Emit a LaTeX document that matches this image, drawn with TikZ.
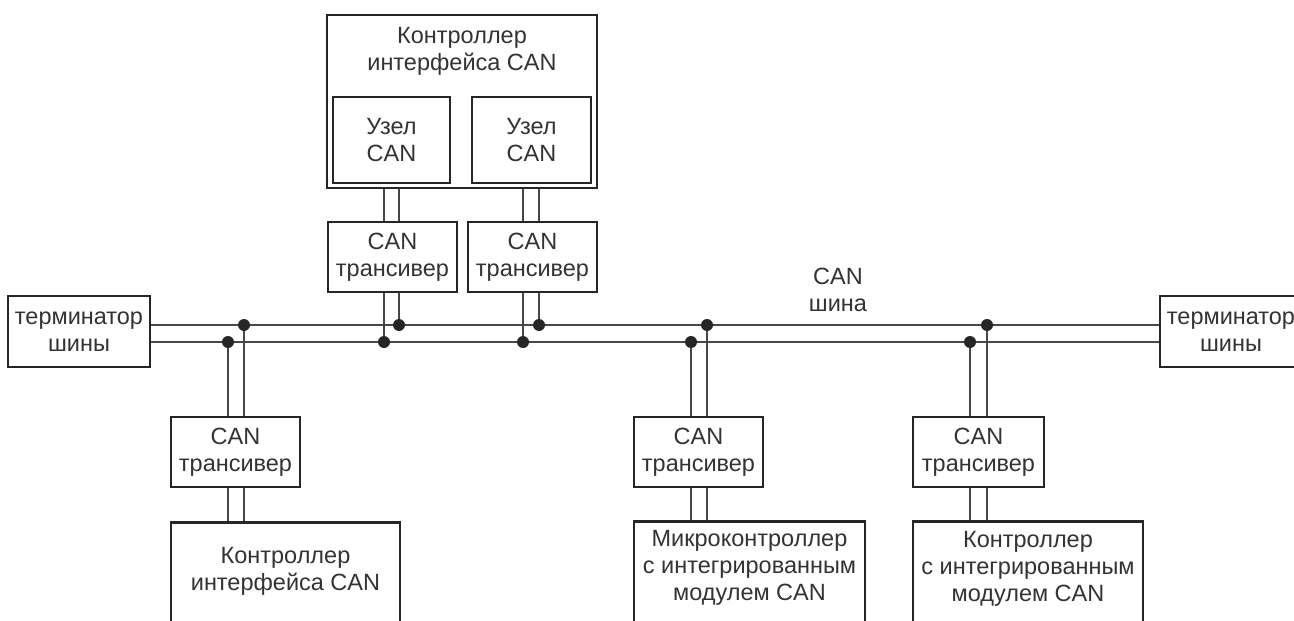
\documentclass[tikz,border=0pt]{standalone}
\usepackage{fontspec}
\setmainfont{Liberation Sans}
\begin{document}
\begin{tikzpicture}[x=1pt,y=-1pt,
  box/.style={draw=black!85, line width=2.7pt, rectangle, inner sep=0pt, fill=white},
  txt/.style={align=center, font=\fontsize{23.5}{27}\selectfont, text=black!80, inner sep=0pt},
  wire/.style={draw=black!72, line width=2pt},
  jdot/.style={circle, fill=black!85, inner sep=0pt, minimum size=12pt}]
\useasboundingbox (0,0) rectangle (1294,621);

% top controller with two CAN nodes
\node[box, minimum width=270pt, minimum height=173pt] (tc) at (462,101.5) {};
\node[txt] (tctext) at (462,51) {Контроллер\\интерфейса CAN};
\node[box, txt, minimum width=117pt, minimum height=86pt] (n1) at (391.5,140) {Узел\\CAN};
\node[box, txt, minimum width=119pt, minimum height=86pt] (n2) at (531.5,140) {Узел\\CAN};

% transceivers
\node[box, txt, minimum width=129pt, minimum height=70pt] (t1) at (392.5,257) {CAN\\трансивер};
\node[box, txt, minimum width=129pt, minimum height=70pt] (t2) at (532.5,257) {CAN\\трансивер};
\node[box, txt, minimum width=129pt, minimum height=70pt] (tb1) at (235.5,452) {CAN\\трансивер};
\node[box, txt, minimum width=129pt, minimum height=70pt] (tb2) at (698.5,452) {CAN\\трансивер};
\node[box, txt, minimum width=131pt, minimum height=70pt] (tb3) at (978.5,452) {CAN\\трансивер};

% terminators
\node[box, txt, minimum width=142pt, minimum height=71pt] (termL) at (79,331.5) {терминатор\\шины};
\node[box, txt, minimum width=142pt, minimum height=71pt] (termR) at (1231,331.5) {терминатор\\шины};

% bottom controllers
\node[box, minimum width=229pt, minimum height=200pt, anchor=north] (cb1) at (285.5,521) {};
\node[txt] (cb1text) at (285.5,571) {Контроллер\\интерфейса CAN};
\node[box, minimum width=231pt, minimum height=200pt, anchor=north] (cb2) at (749.5,520) {};
\node[txt] (cb2text) at (749.5,568) {Микроконтроллер\\с интегрированным\\модулем CAN};
\node[box, minimum width=230pt, minimum height=200pt, anchor=north] (cb3) at (1028,520) {};
\node[txt] (cb3text) at (1028,569) {Контроллер\\с интегрированным\\модулем CAN};

% bus label
\node[txt] (buslabel) at (838,290) {CAN\\шина};

% bus
\coordinate (busT) at (0,325);
\coordinate (busB) at (0,342);
\draw[wire] (termL.east |- busT) -- (termR.west |- busT);
\draw[wire] (termL.east |- busB) -- (termR.west |- busB);

% junctions
\coordinate (a1) at (384,342); \coordinate (a2) at (399,325);
\coordinate (b1) at (523,342); \coordinate (b2) at (539,325);
\coordinate (c1) at (228,342); \coordinate (c2) at (244,325);
\coordinate (d1) at (691,342); \coordinate (d2) at (707,325);
\coordinate (e1) at (970,342); \coordinate (e2) at (987,325);

% top stubs
\foreach \p in {a1,a2} {
  \draw[wire] (tc.south -| \p) -- (t1.north -| \p);
  \draw[wire] (t1.south -| \p) -- (\p);
}
\foreach \p in {b1,b2} {
  \draw[wire] (tc.south -| \p) -- (t2.north -| \p);
  \draw[wire] (t2.south -| \p) -- (\p);
}
% bottom stubs
\foreach \p in {c1,c2} {
  \draw[wire] (\p) -- (tb1.north -| \p);
  \draw[wire] (tb1.south -| \p) -- (cb1.north -| \p);
}
\foreach \p in {d1,d2} {
  \draw[wire] (\p) -- (tb2.north -| \p);
  \draw[wire] (tb2.south -| \p) -- (cb2.north -| \p);
}
\foreach \p in {e1,e2} {
  \draw[wire] (\p) -- (tb3.north -| \p);
  \draw[wire] (tb3.south -| \p) -- (cb3.north -| \p);
}

% dots
\foreach \p in {a1,a2,b1,b2,c1,c2,d1,d2,e1,e2} {
  \node[jdot] (dot\p) at (\p) {};
}
\end{tikzpicture}
\end{document}
